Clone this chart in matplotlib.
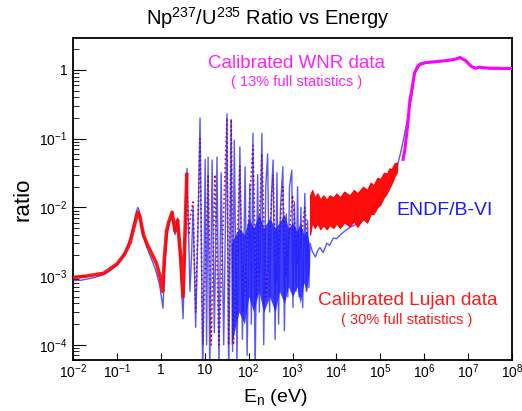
import numpy as np
import matplotlib.pyplot as plt

plt.rcParams['font.family'] = ['Liberation Sans', 'DejaVu Sans']
plt.rcParams['mathtext.fontset'] = 'custom'
plt.rcParams['mathtext.rm'] = 'Liberation Sans'
plt.rcParams['mathtext.it'] = 'Liberation Sans'

# ENDF/B-VI evaluation (blue)
endf_E = [0.010, 0.015, 0.02, 0.03, 0.05, 0.07, 0.1, 0.13, 0.17, 0.21, 0.25, 0.28,
          0.30, 0.32, 0.35, 0.40, 0.47, 0.55, 0.65, 0.8, 0.95, 1.05, 1.12, 1.2,
          1.38, 1.55, 1.8, 2.1, 2.4, 2.8, 3.2, 3.95, 4.6, 5.0, 5.4, 6.2, 7.0, 7.8,
          9.0, 10.2, 11.0, 11.9, 13, 14.7, 16.5, 19, 21, 23.6, 27, 32, 35, 40, 43,
          47, 54, 63, 72, 83, 92, 106, 115, 125, 140, 160, 175, 200, 220, 245,
          270, 300, 330, 360, 400, 440, 480, 530, 600, 650, 720, 780, 850, 960,
          1020, 1100, 1200, 1300, 1400, 1550, 1700, 1900, 2050, 2200, 2350, 2500,
          2800, 3300, 3800, 4200, 5000, 6000, 7000, 8500, 10000, 14000, 20000,
          30000, 50000, 85000, 140000, 240000, 310000, 400000, 530000, 600000,
          800000, 1.1e6, 2e6, 3e6, 5e6, 6.5e6, 8.7e6, 1.2e7, 1.5e7, 2e7, 4e7, 1e8]
endf_r = [8.6e-4, 8.7e-4, 9.0e-4, 9.5e-4, 1.05e-3, 1.2e-3, 1.45e-3, 1.8e-3, 2.6e-3,
          4.0e-3, 6.5e-3, 9.0e-3, 1.0e-2, 9.0e-3, 6.0e-3, 3.8e-3, 2.7e-3, 2.1e-3,
          1.6e-3, 1.1e-3, 7.0e-4, 4.5e-4, 3.4e-4, 1.2e-3, 4.0e-3, 6.0e-3, 8.0e-3,
          4.0e-3, 7.0e-3, 1.5e-3, 2.4e-4, 3.7e-2, 6e-4, 2e-3, 1.0e-2, 1.8e-4,
          5e-3, 0.2, 3e-5, 5e-2, 1e-4, 5.4e-2, 4e-5, 4.9e-2, 1.5e-4, 5.4e-2, 5e-5,
          3.2e-2, 1e-4, 0.23, 3e-5, 0.19, 8e-5, 9.5e-2, 6e-5, 7.6e-2, 1.2e-4,
          3.9e-2, 7e-5, 2.2e-2, 2e-4, 0.12, 4e-5, 3e-2, 3e-4, 0.12, 1e-4, 2e-2,
          6e-2, 3e-4, 1.5e-2, 4.9e-2, 1.2e-4, 3.2e-2, 2e-4, 1e-2, 3.9e-2, 1.6e-4,
          8e-3, 5e-4, 2e-2, 3.5e-2, 3.5e-4, 1.2e-2, 6e-4, 2e-2, 5e-4, 1e-2,
          3.5e-4, 1.6e-2, 6e-4, 6.5e-3, 6.8e-4, 3e-3, 2.3e-3, 1.9e-3, 2.4e-3,
          2.6e-3, 2.2e-3, 3.0e-3, 2.8e-3, 3.6e-3, 3.5e-3, 4.3e-3, 5.1e-3, 5.8e-3,
          7.0e-3, 1.15e-2, 1.95e-2, 3.8e-2, 7.6e-2, 0.17, 0.45, 0.9, 1.17, 1.26,
          1.30, 1.36, 1.42, 1.48, 1.38, 1.1, 1.06, 1.07, 1.04, 1.03]

# dense resonance core of the evaluation
core_E = [40, 60, 80, 100, 130, 170, 220, 300, 400, 500, 650, 800, 1000, 1250,
          1500, 1800, 2100, 2400]
core_lo = [1e-4, 3e-4, 2e-4, 5e-4, 3e-4, 6e-4, 3e-4, 5e-4, 3e-4, 6e-4, 4e-4, 7e-4,
           5e-4, 7e-4, 4e-4, 8e-4, 6e-4, 1.3e-3]
core_hi = [3e-3, 5e-3, 4e-3, 7e-3, 5e-3, 8e-3, 5e-3, 7e-3, 5e-3, 6e-3, 8e-3, 5e-3,
           6e-3, 4.5e-3, 6e-3, 4e-3, 4.5e-3, 3e-3]

# Calibrated Lujan data (red)
lujan_E = [0.01, 0.02, 0.05, 0.1, 0.15, 0.2, 0.25, 0.3, 0.33, 0.4, 0.5, 0.65, 0.8,
           0.95, 1.1, 1.2, 1.35, 1.5, 1.8, 2.1, 2.4, 2.8, 3.2, 3.9, 4.3, 4.8, 5.4,
           6.2, 7.8, 9, 11.9, 14, 17, 21, 32, 35, 40, 45, 63, 75, 125, 150, 200,
           250, 360, 420, 600, 700, 1000, 1300, 1900, 2300]
lujan_r = [9.5e-4, 1.0e-3, 1.1e-3, 1.5e-3, 2.1e-3, 3.1e-3, 5.5e-3, 8.5e-3, 7.5e-3,
           4.0e-3, 2.8e-3, 2.0e-3, 1.5e-3, 1.0e-3, 6.0e-4, 1.8e-3, 4.5e-3, 6.0e-3,
           8.5e-3, 4.5e-3, 6.5e-3, 2.0e-3, 5e-4, 3e-2, 4e-3, 8e-3, 1.2e-2, 3e-4,
           0.1, 1e-4, 3e-2, 1e-4, 3e-2, 1e-4, 0.2, 1e-4, 0.19, 1e-4, 4e-2, 3e-4,
           8e-2, 5e-4, 6e-2, 5e-4, 3e-2, 8e-4, 2e-2, 1e-3, 1.5e-2, 1.5e-3, 1e-2, 2e-3]
band_E = [2500, 2800, 3200, 3700, 4300, 5000, 6000, 7000, 8500, 10000, 12000,
          15000, 20000, 25000, 30000, 40000, 50000, 60000, 70000, 85000, 100000,
          120000, 140000, 160000, 180000, 210000, 240000]
band_hi = [1.5e-2, 1.8e-2, 1.4e-2, 1.6e-2, 1.3e-2, 1.5e-2, 1.3e-2, 1.5e-2, 1.4e-2,
           1.6e-2, 1.4e-2, 1.7e-2, 1.5e-2, 1.8e-2, 1.6e-2, 2.0e-2, 1.8e-2, 2.3e-2,
           2.1e-2, 2.7e-2, 2.6e-2, 3.2e-2, 3.1e-2, 3.7e-2, 3.6e-2, 4.4e-2, 4.5e-2]
band_lo = [4.0e-3, 6.0e-3, 5.0e-3, 5.8e-3, 4.8e-3, 5.5e-3, 4.8e-3, 5.5e-3, 5.0e-3,
           5.8e-3, 5.0e-3, 6.0e-3, 5.3e-3, 6.3e-3, 5.2e-3, 6.8e-3, 6.0e-3, 8.0e-3,
           8.0e-3, 1.0e-2, 1.1e-2, 1.4e-2, 1.6e-2, 1.9e-2, 2.2e-2, 2.8e-2, 3.3e-2]

# Calibrated WNR data (magenta)
wnr_E = [3.3e5, 3.6e5, 4.2e5, 4.7e5, 5.3e5, 6e5, 7e5, 8e5, 1e6, 1.3e6, 2e6, 2.9e6,
         4e6, 5e6, 6.5e6, 7.5e6, 8.7e6, 1e7, 1.2e7, 1.5e7, 1.8e7, 2.2e7, 3e7,
         4.5e7, 7e7, 1e8]
wnr_r = [0.05, 0.068, 0.16, 0.36, 0.55, 0.9, 1.12, 1.22, 1.27, 1.3, 1.33, 1.36,
         1.4, 1.43, 1.52, 1.44, 1.38, 1.25, 1.12, 1.06, 1.1, 1.08, 1.06, 1.06,
         1.05, 1.05]

xticks = [1e-2, 1e-1, 1, 10, 1e2, 1e3, 1e4, 1e5, 1e6, 1e7, 1e8]
xtick_labels = ['10$^{-2}$', '10$^{-1}$', '1', '10', '10$^{2}$', '10$^{3}$',
                '10$^{4}$', '10$^{5}$', '10$^{6}$', '10$^{7}$', '10$^{8}$']
yticks = [1e-4, 1e-3, 1e-2, 1e-1, 1]
ytick_labels = ['10$^{-4}$', '10$^{-3}$', '10$^{-2}$', '10$^{-1}$', '1']

fig = plt.figure(figsize=(5.22, 4.11), dpi=100)
ax = fig.add_axes([0.14, 0.124, 0.841, 0.783])

ax.fill_between(core_E, core_lo, core_hi, color='#1010ff', alpha=0.8, lw=0, zorder=2)
ax.plot(endf_E, endf_r, color='#2020ff', lw=1.0, alpha=0.75, zorder=2)
ax.plot(lujan_E[:24], lujan_r[:24], color='red', lw=2.6, alpha=0.9, zorder=3)
ax.plot(lujan_E[23:], lujan_r[23:], color='red', lw=1.2, ls=':', zorder=1)
ax.fill_between(band_E, band_lo, band_hi, color='red', lw=0.8, alpha=0.95, zorder=3)
ax.plot(wnr_E, wnr_r, color='#ff00ff', lw=2.2, zorder=4)

ax.set_xscale('log')
ax.set_yscale('log')
ax.set_xlim(1e-2, 1e8)
ax.set_ylim(6e-5, 2.9)
ax.set_xticks(xticks)
ax.set_xticklabels(xtick_labels)
ax.set_yticks(yticks)
ax.set_yticklabels(ytick_labels)
ax.xaxis.set_minor_formatter(plt.NullFormatter())
ax.yaxis.set_minor_formatter(plt.NullFormatter())
ax.tick_params(axis='x', which='major', direction='in', length=5, labelsize=10, pad=2)
ax.tick_params(axis='x', which='minor', direction='in', length=2.5)
ax.tick_params(axis='y', which='major', direction='in', length=9, labelsize=10, pad=4)
ax.tick_params(axis='y', which='minor', direction='in', length=4.5)
for s in ax.spines.values():
    s.set_linewidth(1.3)

ax.set_ylabel('ratio', fontsize=16, labelpad=4)
fig.text(0.527, 1 - 397 / 411, 'E$_{n}$ (eV)', ha='center', va='center', fontsize=14)
fig.text(0.513, 0.955, 'Np$^{237}$/U$^{235}$ Ratio vs Energy', ha='center', va='center',
         fontsize=14.5)

fig.text(297 / 522, 1 - 63 / 411, 'Calibrated WNR data', color='#ff22ff', fontsize=13.5,
         ha='center', va='center')
fig.text(297 / 522, 1 - 82 / 411, '( 13% full statistics )', color='#ff22ff', fontsize=10.5,
         ha='center', va='center')
fig.text(445 / 522, 1 - 210 / 411, 'ENDF/B-VI', color='#1a1aff', fontsize=14,
         ha='center', va='center')
fig.text(408 / 522, 1 - 300 / 411, 'Calibrated Lujan data', color='#ff1a1a', fontsize=13.7,
         ha='center', va='center')
fig.text(407 / 522, 1 - 320 / 411, '( 30% full statistics )', color='#ff1a1a', fontsize=10.5,
         ha='center', va='center')

fig.savefig('out.png', dpi=100)
